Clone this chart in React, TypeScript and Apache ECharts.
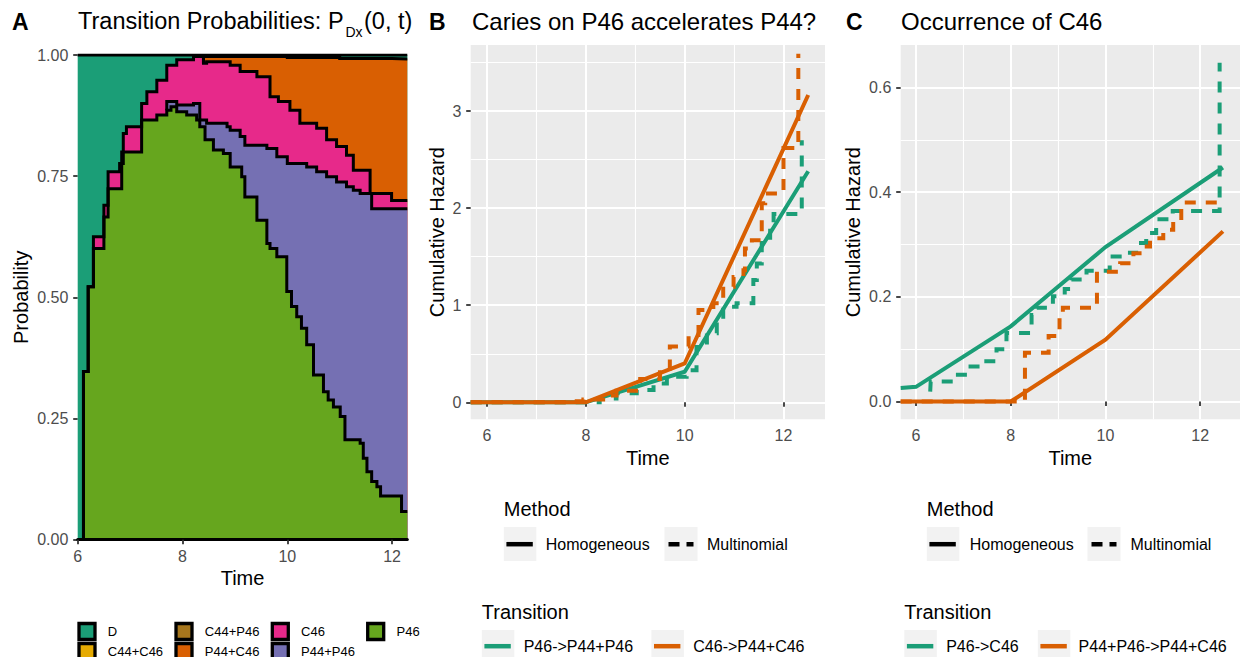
import React, { useEffect, useRef } from "react";
import * as echarts from "echarts";

const FONT = '"Liberation Sans", Arial, Helvetica, sans-serif';
const GREEN = "#1B9E77";
const ORANGE = "#D95F02";
const TICK = "#333333";
const LABEL = "#4D4D4D";

// ---------- Panel A: stacked transition probabilities (cumulative upper edges, step functions) ----------
const stateLabels = ["D", "C44+C46", "C44+P46", "P44+C46", "C46", "P44+P46", "P46"];
const stateColors = ["#1B9E77", "#E6AB02", "#A6761D", "#D95F02", "#E7298A", "#7570B3", "#66A61E"];
const xTicksA = [6, 8, 10, 12];
const yTicksA = [0, 0.25, 0.5, 0.75, 1];

const edgeD = [[6, 1], [12.29, 1]];
const edgeP44C46 = [[8.4, 0.983], [8.4, 0.997], [10.0, 0.995], [11.0, 0.993], [12.0, 0.992], [12.29, 0.992]];
const edgeC46 = [
  [6.11, 0], [6.11, 0.347], [6.2, 0.522], [6.3, 0.625], [6.5, 0.69], [6.58, 0.759], [6.8, 0.776],
  [6.87, 0.838], [6.93, 0.852], [7.22, 0.9], [7.32, 0.924], [7.51, 0.948], [7.7, 0.979], [7.89, 0.99],
  [8.21, 0.997], [8.4, 0.983], [8.46, 0.986], [8.91, 0.979], [9.1, 0.966], [9.42, 0.955], [9.67, 0.914],
  [9.83, 0.904], [10.05, 0.886], [10.24, 0.859], [10.56, 0.849], [10.75, 0.825], [10.94, 0.811],
  [11.13, 0.793], [11.26, 0.762], [11.58, 0.714], [11.99, 0.7], [12.29, 0.7],
];
const edgeP44P46 = [
  [7.7, 0.886], [7.7, 0.904], [7.89, 0.897], [8.21, 0.9], [8.33, 0.866], [8.46, 0.859], [8.85, 0.852],
  [8.91, 0.845], [9.1, 0.832], [9.19, 0.814], [9.61, 0.807], [9.8, 0.79], [10.0, 0.776], [10.37, 0.769],
  [10.56, 0.759], [10.75, 0.749], [10.94, 0.738], [11.13, 0.728], [11.26, 0.721], [11.39, 0.714],
  [11.61, 0.683], [12.29, 0.683],
];
const edgeP46 = [
  [6.11, 0], [6.11, 0.347], [6.2, 0.522], [6.3, 0.601], [6.5, 0.666], [6.58, 0.724], [6.84, 0.8],
  [7.22, 0.866], [7.51, 0.876], [7.7, 0.886], [7.78, 0.893], [7.89, 0.883], [8.08, 0.876], [8.27, 0.866],
  [8.33, 0.852], [8.43, 0.825], [8.59, 0.804], [8.78, 0.797], [8.91, 0.769], [9.13, 0.749], [9.19, 0.707],
  [9.42, 0.659], [9.61, 0.611], [9.67, 0.601], [9.8, 0.584], [9.99, 0.512], [10.08, 0.481], [10.18, 0.46],
  [10.27, 0.436], [10.37, 0.402], [10.5, 0.34], [10.69, 0.305], [10.78, 0.288], [10.88, 0.274],
  [11.01, 0.254], [11.1, 0.206], [11.39, 0.199], [11.45, 0.168], [11.52, 0.14], [11.61, 0.12],
  [11.71, 0.109], [11.78, 0.09], [12.18, 0.058], [12.29, 0.058],
];

// ---------- Panel B: cumulative hazard, P46->P44+P46 vs C46->P44+C46 ----------
const xMajorBC = [6, 8, 10, 12];
const xMinorBC = [7, 9, 11];
const yMajorB = [0, 1, 2, 3];
const yMinorB = [0.5, 1.5, 2.5, 3.5];
const bGreenHom = [[5.67, 0], [8, 0], [10, 0.315], [12.5, 2.38]];
const bOrangeHom = [[5.67, 0], [8, 0], [10, 0.4], [12.5, 3.165]];
const bGreenMult = [
  [5.67, 0], [8.28, 0.04], [8.62, 0.093], [9.03, 0.127], [9.37, 0.195], [9.64, 0.263], [10.04, 0.33],
  [10.24, 0.57], [10.45, 0.71], [10.65, 0.88], [10.78, 0.985], [11.05, 1.02], [11.39, 1.26], [11.46, 1.43],
  [11.56, 1.64], [11.73, 1.84], [11.8, 1.94], [12.37, 2.7],
];
const bOrangeMult = [
  [5.67, 0], [7.6, 0.01], [7.95, 0.03], [8.35, 0.07], [8.62, 0.12], [9.1, 0.24], [9.5, 0.31], [9.7, 0.574],
  [10.08, 0.693], [10.28, 0.951], [10.58, 1.02], [10.78, 1.19], [10.99, 1.29], [11.19, 1.36], [11.22, 1.585],
  [11.36, 1.67], [11.56, 2.05], [11.63, 2.15], [12.0, 2.62], [12.3, 3.59],
];

// ---------- Panel C: cumulative hazard, P46->C46 vs P44+P46->P44+C46 ----------
const yMajorC = [0, 0.2, 0.4, 0.6];
const yMinorC = [0.1, 0.3, 0.5];
const cGreenHom = [[5.677, 0.026], [6, 0.028], [8, 0.1435], [10, 0.295], [12.48, 0.447]];
const cOrangeHom = [[5.677, 0], [8, 0], [10, 0.118], [12.48, 0.325]];
const cGreenMult = [
  [6.3, 0.019], [6.31, 0.038], [6.79, 0.051], [7.1, 0.067], [7.35, 0.077], [7.7, 0.1], [7.91, 0.131],
  [8.44, 0.165], [8.55, 0.179], [8.89, 0.201], [9.14, 0.215], [9.28, 0.233], [9.6, 0.25], [10.09, 0.277],
  [10.3, 0.284], [10.69, 0.303], [10.86, 0.322], [11.07, 0.348], [11.42, 0.364], [12.41, 0.647],
];
const cOrangeMult = [
  [5.677, 0], [8.3, 0], [8.3, 0.093], [8.8, 0.125], [9.03, 0.155], [9.1, 0.179], [9.82, 0.248],
  [10.31, 0.264], [10.59, 0.283], [10.8, 0.296], [10.94, 0.312], [11.22, 0.328], [11.43, 0.344],
  [11.6, 0.38], [12.48, 0.38],
];

const DASH = [11, 10];

function txt(text: string, x: number, y: number, size: number, o: any = {}) {
  return {
    type: "text",
    x,
    y,
    z: 100,
    silent: true,
    rotation: o.rotation || 0,
    style: {
      text,
      fill: o.fill || "#000",
      fontSize: size,
      fontFamily: FONT,
      fontWeight: o.weight || "normal",
      align: o.align || "left",
      verticalAlign: "middle",
    },
  };
}

function rect(x: number, y: number, w: number, h: number, style: any) {
  return { type: "rect", z: 100, silent: true, shape: { x, y, width: w, height: h }, style };
}

function seg(x1: number, y: number, x2: number, color: string, dash?: number[]) {
  return {
    type: "line",
    z: 101,
    silent: true,
    shape: { x1, y1: y, x2, y2: y },
    style: { stroke: color, lineWidth: 4.5, lineDash: dash || null, lineCap: "butt" },
  };
}

function majorAxis(grid: number, min: number, max: number, values: number[], isX: boolean, fmt?: (v: number) => string) {
  return {
    type: "value",
    gridIndex: grid,
    min,
    max,
    position: isX ? "bottom" : "left",
    axisLine: { show: false },
    axisTick: { show: true, customValues: values, length: 4.5, lineStyle: { color: TICK, width: 1.8 } },
    axisLabel: {
      show: true,
      customValues: values,
      color: LABEL,
      fontSize: 16,
      fontFamily: FONT,
      margin: isX ? 8.5 : 9.4,
      formatter: fmt ? (v: number) => fmt(v) : (v: number) => String(v),
    },
    splitLine: { show: true, lineStyle: { color: "#FFFFFF", width: 2 } },
  };
}

function minorAxis(grid: number, min: number, max: number, values: number[], isX: boolean) {
  return {
    type: "value",
    gridIndex: grid,
    min,
    max,
    position: isX ? "bottom" : "left",
    axisLine: { show: false },
    axisTick: { show: false, customValues: values },
    axisLabel: { show: false, customValues: values },
    splitLine: { show: true, lineStyle: { color: "#FFFFFF", width: 1.1 } },
  };
}

function hazardLine(data: number[][], color: string, xi: number, yi: number, dashed: boolean) {
  return {
    type: "line",
    xAxisIndex: xi,
    yAxisIndex: yi,
    data,
    step: dashed ? "end" : false,
    symbol: "none",
    silent: true,
    lineStyle: { color, width: 4, type: dashed ? DASH : "solid", cap: "butt", join: "miter" },
  };
}

export default function App() {
  const ref = useRef<HTMLDivElement>(null);

  useEffect(() => {
    if (!ref.current) return;
    const chart = echarts.init(ref.current, null, { renderer: "svg" });

    const areaEdges = [edgeD, edgeP44C46, edgeC46, edgeP44P46, edgeP46];
    const areaColors = [stateColors[0], stateColors[3], stateColors[4], stateColors[5], stateColors[6]];
    const areaSeries = areaEdges.map((d, i) => ({
      type: "line",
      xAxisIndex: 0,
      yAxisIndex: 0,
      data: d,
      step: "end",
      symbol: "none",
      silent: true,
      lineStyle: { color: "#000", width: 3, join: "miter" },
      areaStyle: { color: areaColors[i], opacity: 1, origin: "start" },
    }));

    const graphics: any[] = [];
    // panel letters and titles
    graphics.push(txt("A", 12, 21.5, 23, { weight: "bold" }));
    graphics.push(txt("B", 429, 21.5, 23, { weight: "bold" }));
    graphics.push(txt("C", 846, 21.5, 23, { weight: "bold" }));
    graphics.push(txt("Transition Probabilities: P", 78, 21.3, 23.5));
    graphics.push(txt("Dx", 345.5, 31.5, 14));
    graphics.push(txt("(0, t)", 364, 21.3, 23.5));
    graphics.push(txt("Caries on P46 accelerates P44?", 472, 21.3, 24));
    graphics.push(txt("Occurrence of C46", 901, 21.3, 24));
    // axis titles
    graphics.push(txt("Time", 242.5, 578, 20, { align: "center" }));
    graphics.push(txt("Probability", 21, 297.3, 20, { align: "center", rotation: Math.PI / 2 }));
    graphics.push(txt("Time", 647.8, 457.6, 20, { align: "center" }));
    graphics.push(txt("Cumulative Hazard", 436.6, 232.2, 20, { align: "center", rotation: Math.PI / 2 }));
    graphics.push(txt("Time", 1070.3, 457.6, 20, { align: "center" }));
    graphics.push(txt("Cumulative Hazard", 852.9, 232.2, 20, { align: "center", rotation: Math.PI / 2 }));

    // panel A legend
    const colX = [79, 176, 272.3, 367.7];
    const rowY = [623.5, 643.5];
    stateLabels.forEach((lab, i) => {
      const c = Math.floor(i / 2);
      const r = i % 2;
      graphics.push(rect(colX[c], rowY[r], 16, 16, { fill: stateColors[i], stroke: "#000", lineWidth: 3.3 }));
      graphics.push(txt(lab, colX[c] + 28.8, rowY[r] + 7.5, 13));
    });

    // panels B and C legends
    const legends = [
      { mX: 503.8, k1: 503.8, h: 545.7, k2: 664.5, m: 706.9, tX: 481.8, t1: 481.8, l1: 523.7, t2: 651.4, l2: 693.3,
        labels: ["P46->P44+P46", "C46->P44+C46"] },
      { mX: 926.8, k1: 926.8, h: 969.7, k2: 1087.5, m: 1130.5, tX: 904.3, t1: 904.3, l1: 946.2, t2: 1037.8, l2: 1078.6,
        labels: ["P46->C46", "P44+P46->P44+C46"] },
    ];
    legends.forEach((L) => {
      graphics.push(txt("Method", L.mX, 509, 20));
      graphics.push(rect(L.k1, 527, 32.5, 34, { fill: "#F2F2F2" }));
      graphics.push(seg(L.k1 + 2.6, 544.2, L.k1 + 29, "#000"));
      graphics.push(txt("Homogeneous", L.h, 544.2, 16));
      graphics.push(rect(L.k2, 527, 33, 34, { fill: "#F2F2F2" }));
      graphics.push(seg(L.k2 + 4, 544.2, L.k2 + 29, "#000", [11, 7]));
      graphics.push(txt("Multinomial", L.m, 544.2, 16));
      graphics.push(txt("Transition", L.tX, 611.7, 20));
      graphics.push(rect(L.t1, 630, 32.5, 34, { fill: "#F2F2F2" }));
      graphics.push(seg(L.t1 + 2.6, 646.2, L.t1 + 29, GREEN));
      graphics.push(txt(L.labels[0], L.l1, 646.2, 16));
      graphics.push(rect(L.t2, 630, 32.5, 34, { fill: "#F2F2F2" }));
      graphics.push(seg(L.t2 + 2.6, 646.2, L.t2 + 29, ORANGE));
      graphics.push(txt(L.labels[1], L.l2, 646.2, 16));
    });

    const option: any = {
      animation: false,
      backgroundColor: "#FFFFFF",
      textStyle: { fontFamily: FONT },
      grid: [
        { left: 77.7, top: 55, width: 329.6, height: 484.7, show: false, outerBoundsMode: "none", containLabel: false },
        { left: 470.7, top: 45, width: 354.3, height: 374.3, show: true, backgroundColor: "#EBEBEB", borderWidth: 0, outerBoundsMode: "none", containLabel: false },
        { left: 900.7, top: 45, width: 339.3, height: 374.3, show: true, backgroundColor: "#EBEBEB", borderWidth: 0, outerBoundsMode: "none", containLabel: false },
      ],
      xAxis: [
        {
          type: "value",
          gridIndex: 0,
          min: 6,
          max: 12.29,
          z: 5,
          axisLine: { show: true, lineStyle: { color: "#000", width: 3 } },
          axisTick: { show: true, customValues: xTicksA, length: 4.5, lineStyle: { color: TICK, width: 1.8 } },
          axisLabel: { customValues: xTicksA, color: LABEL, fontSize: 16, fontFamily: FONT, margin: 8.5 },
          splitLine: { show: false },
        },
        majorAxis(1, 5.67, 12.84, xMajorBC, true),
        minorAxis(1, 5.67, 12.84, xMinorBC, true),
        majorAxis(2, 5.677, 12.84, xMajorBC, true),
        minorAxis(2, 5.677, 12.84, xMinorBC, true),
      ],
      yAxis: [
        {
          type: "value",
          gridIndex: 0,
          min: 0,
          max: 1,
          axisLine: { show: false },
          axisTick: { show: true, customValues: yTicksA, length: 4.5, lineStyle: { color: TICK, width: 1.8 } },
          axisLabel: {
            customValues: yTicksA,
            color: LABEL,
            fontSize: 16,
            fontFamily: FONT,
            margin: 9.4,
            formatter: (v: number) => v.toFixed(2),
          },
          splitLine: { show: false },
        },
        majorAxis(1, -0.175, 3.68, yMajorB, false),
        minorAxis(1, -0.175, 3.68, yMinorB, false),
        majorAxis(2, -0.034, 0.681, yMajorC, false, (v) => v.toFixed(1)),
        minorAxis(2, -0.034, 0.681, yMinorC, false),
      ],
      series: [
        ...areaSeries,
        hazardLine(bGreenHom, GREEN, 1, 1, false),
        hazardLine(bGreenMult, GREEN, 1, 1, true),
        hazardLine(bOrangeHom, ORANGE, 1, 1, false),
        hazardLine(bOrangeMult, ORANGE, 1, 1, true),
        hazardLine(cGreenHom, GREEN, 3, 3, false),
        hazardLine(cGreenMult, GREEN, 3, 3, true),
        hazardLine(cOrangeHom, ORANGE, 3, 3, false),
        hazardLine(cOrangeMult, ORANGE, 3, 3, true),
      ],
      graphic: { elements: graphics },
    };

    chart.setOption(option);
    return () => chart.dispose();
  }, []);

  return (
    <div
      ref={ref}
      style={{ position: "absolute", left: 0, top: 0, width: 1240, height: 657, background: "#fff" }}
    />
  );
}
